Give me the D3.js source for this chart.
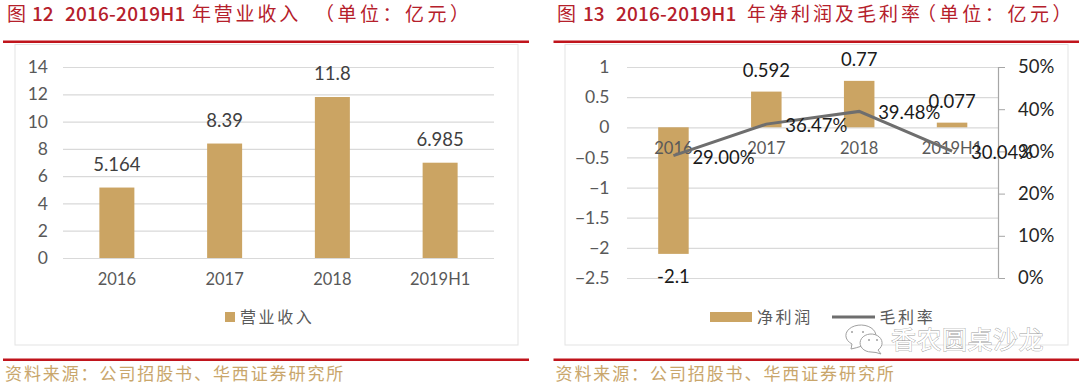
<!DOCTYPE html>
<html>
<head>
<meta charset="utf-8">
<script src="https://cdn.jsdelivr.net/npm/d3@7/dist/d3.min.js"></script>
<style>
  html, body { margin: 0; padding: 0; background: #fff; }
  svg { display: block; }
  text { font-family: Lato, "Noto Sans CJK SC", sans-serif; }
  .cjk { font-family: "Noto Sans CJK SC", sans-serif; }
  .domain { display: none; }
</style>
</head>
<body>
<svg id="chart" width="1080" height="386"></svg>
<script>
const categories = ["2016", "2017", "2018", "2019H1"];
const revenue = [5.164, 8.39, 11.8, 6.985];
const revenueLabels = ["5.164", "8.39", "11.8", "6.985"];
const revenueTicks = [0, 2, 4, 6, 8, 10, 12, 14];
const profit = [-2.1, 0.592, 0.77, 0.077];
const profitLabels = ["-2.1", "0.592", "0.77", "0.077"];
const profitTicks = [-2.5, -2, -1.5, -1, -0.5, 0, 0.5, 1];
const margin = [29.0, 36.47, 39.48, 30.04];
const marginLabels = ["29.00%", "36.47%", "39.48%", "30.04%"];
const marginTicks = [0, 10, 20, 30, 40, 50];

const GOLD = "#cba463";
const RED = "#c0141c";
const TITLE_RED = "#b5202b";
const SOURCE = "#c9a66b";
const GRID = "#d9d9d9";
const TICK_TEXT = "#595959";

const svg = d3.select("#chart");

// Title is set in separate runs because digits and hanzi are spaced differently
function titleRun(x, str, spacing, weight) {
  svg.append("text").attr("class", "cjk")
    .attr("x", x).attr("y", 21)
    .attr("font-size", 19).attr("fill", TITLE_RED)
    .attr("font-weight", weight || 400)
    .attr("letter-spacing", spacing)
    .text(str);
}

// Red rules, frame and source line shared by both panels
function panelFrame(x0, x1, frameX0, frameX1, source) {
  svg.append("rect").attr("x", x0).attr("y", 40.5)
    .attr("width", x1 - x0).attr("height", 2.5).attr("fill", RED);
  svg.append("rect").attr("x", frameX0).attr("y", 44.5)
    .attr("width", frameX1 - frameX0).attr("height", 300.5)
    .attr("fill", "#fff").attr("stroke", "#e3e3e3").attr("stroke-width", 1);
  svg.append("rect").attr("x", x0).attr("y", 358.5)
    .attr("width", x1 - x0).attr("height", 2.5).attr("fill", RED);
  svg.append("text").attr("class", "cjk")
    .attr("x", x0 + 2).attr("y", 380)
    .attr("font-size", 17).attr("letter-spacing", 1.9).attr("fill", SOURCE)
    .text(source);
}

panelFrame(3, 529, 15, 518, "资料来源：公司招股书、华西证券研究所");
panelFrame(553.5, 1079, 565, 1068, "资料来源：公司招股书、华西证券研究所");

titleRun(7, "图", 0);
titleRun(32, "12", 0, 500);
titleRun(65, "2016-2019H1", 0.2, 500);
titleRun(192, "年营业收入", 2.8);
titleRun(315, "（单位：亿元）", 3.5);

titleRun(557, "图", 0);
titleRun(583, "13", 0, 500);
titleRun(616, "2016-2019H1", 0.2, 500);
titleRun(747, "年净利润及毛利率", 3);
titleRun(917, "（单位：亿元）", 3.6);

// Left panel: revenue
const xLeft = d3.scaleBand().domain(categories).range([63, 494]);
const yLeft = d3.scaleLinear().domain([0, 14]).range([258, 67]);

const leftAxis = svg.append("g").attr("transform", "translate(63,0)")
  .call(d3.axisLeft(yLeft).tickValues(revenueTicks).tickSize(-431).tickPadding(15));
leftAxis.selectAll("line").attr("stroke", GRID).attr("stroke-width", 1.2);
leftAxis.selectAll("text").attr("font-size", 17.5).attr("fill", TICK_TEXT);
leftAxis.attr("font-family", null);

svg.append("g").selectAll("rect").data(categories).join("rect")
  .attr("x", d => xLeft(d) + xLeft.bandwidth() / 2 - 17.5)
  .attr("width", 35)
  .attr("y", (d, i) => yLeft(revenue[i]))
  .attr("height", (d, i) => yLeft(0) - yLeft(revenue[i]))
  .attr("fill", GOLD);

svg.append("g").selectAll("text").data(categories).join("text")
  .attr("x", d => xLeft(d) + xLeft.bandwidth() / 2)
  .attr("y", 285)
  .attr("text-anchor", "middle").attr("font-size", 16.5).attr("fill", TICK_TEXT)
  .text(d => d);

svg.append("g").selectAll("text").data(categories).join("text")
  .attr("x", d => xLeft(d) + xLeft.bandwidth() / 2)
  .attr("y", (d, i) => yLeft(revenue[i]) - 17)
  .attr("text-anchor", "middle").attr("font-size", 18.5).attr("fill", "#404040")
  .text((d, i) => revenueLabels[i]);

svg.append("rect").attr("x", 225).attr("y", 312).attr("width", 10).attr("height", 10).attr("fill", GOLD);
svg.append("text").attr("class", "cjk").attr("x", 240).attr("y", 323)
  .attr("font-size", 16).attr("letter-spacing", 2.6).attr("fill", TICK_TEXT).text("营业收入");

// Right panel: net profit bars with margin line on a second axis
const xRight = d3.scaleBand().domain(categories).range([627, 998.5]);
const yProfit = d3.scaleLinear().domain([-2.5, 1]).range([278, 67]);
const yMargin = d3.scaleLinear().domain([0, 50]).range([278, 67]);
const mid = d => xRight(d) + xRight.bandwidth() / 2;

const profitAxis = svg.append("g").attr("transform", "translate(627,0)")
  .call(d3.axisLeft(yProfit).tickValues(profitTicks).tickFormat(d3.format("")).tickSize(-371.5).tickPadding(17.5));
profitAxis.selectAll("line").attr("stroke", GRID).attr("stroke-width", 1.2);
profitAxis.selectAll("text").attr("font-size", 17.5).attr("fill", TICK_TEXT);
profitAxis.attr("font-family", null);

svg.append("g").selectAll("rect").data(categories).join("rect")
  .attr("x", d => mid(d) - 15.25)
  .attr("width", 30.5)
  .attr("y", (d, i) => Math.min(yProfit(profit[i]), yProfit(0)))
  .attr("height", (d, i) => Math.abs(yProfit(profit[i]) - yProfit(0)))
  .attr("fill", GOLD);

svg.append("g").selectAll("text").data(categories).join("text")
  .attr("x", mid)
  .attr("y", 154)
  .attr("text-anchor", "middle").attr("font-size", 16.5).attr("fill", TICK_TEXT)
  .text(d => d);

const marginAxis = svg.append("g").attr("transform", "translate(998.5,0)")
  .call(d3.axisRight(yMargin).tickValues(marginTicks).tickFormat(d => d + "%").tickSize(6.5).tickPadding(13));
marginAxis.selectAll("line").attr("stroke", "#a6a6a6");
marginAxis.selectAll("text").attr("font-size", 18.5).attr("fill", "#262626");
marginAxis.attr("font-family", null);
svg.append("line").attr("x1", 998.5).attr("x2", 998.5)
  .attr("y1", yMargin(50)).attr("y2", yMargin(0))
  .attr("stroke", "#a6a6a6").attr("stroke-width", 1.2);

const line = d3.line().x(d => mid(d)).y((d, i) => yMargin(margin[i]));
svg.append("path").datum(categories)
  .attr("d", line)
  .attr("fill", "none").attr("stroke", "#6e6e6e").attr("stroke-width", 3);

svg.append("g").selectAll("text").data(categories).join("text")
  .attr("x", mid)
  .attr("y", (d, i) => profit[i] < 0 ? yProfit(profit[i]) + 29 : yProfit(profit[i]) - 15)
  .attr("text-anchor", "middle").attr("font-size", 18.5).attr("fill", "#1a1a1a")
  .text((d, i) => profitLabels[i]);

svg.append("g").selectAll("text").data(categories).join("text")
  .attr("x", d => mid(d) + 50)
  .attr("y", (d, i) => yMargin(margin[i]) + 8)
  .attr("text-anchor", "middle").attr("font-size", 18.5).attr("fill", "#1a1a1a")
  .text((d, i) => marginLabels[i]);

// Legend
svg.append("rect").attr("x", 710).attr("y", 312).attr("width", 42).attr("height", 10).attr("fill", GOLD);
svg.append("text").attr("class", "cjk").attr("x", 757).attr("y", 323)
  .attr("font-size", 16).attr("letter-spacing", 2.6).attr("fill", TICK_TEXT).text("净利润");
svg.append("line").attr("x1", 832).attr("x2", 875).attr("y1", 317).attr("y2", 317)
  .attr("stroke", "#6e6e6e").attr("stroke-width", 3);
svg.append("text").attr("class", "cjk").attr("x", 879.5).attr("y", 323)
  .attr("font-size", 16).attr("letter-spacing", 2.6).attr("fill", TICK_TEXT).text("毛利率");

// Watermark: two speech bubbles and the account name
const wm = svg.append("g").attr("transform", "translate(10,0)")
  .attr("fill", "#fff").attr("stroke", "#a0a0a0").attr("stroke-width", 1);
wm.append("path").attr("d", "M841,349 L842,344 A15,10.5 0 1 1 852,346 Q846,348 841,349Z");
wm.append("path").attr("d", "M871,354 L868,350 A11,9 0 1 0 861,352 Q866,352 871,354Z");
wm.selectAll("circle").data([[842, 332], [853, 332], [859, 340], [867, 340]]).join("circle")
  .attr("cx", d => d[0]).attr("cy", d => d[1]).attr("r", 1)
  .attr("fill", "#a0a0a0").attr("stroke", "none");
svg.append("text").attr("class", "cjk")
  .attr("x", 891).attr("y", 349)
  .attr("font-size", 25).attr("letter-spacing", 0.5)
  .attr("fill", "#fff").attr("stroke", "#a0a0a0").attr("stroke-width", 0.8)
  .attr("paint-order", "stroke")
  .text("香农圆桌沙龙");
</script>
</body>
</html>
